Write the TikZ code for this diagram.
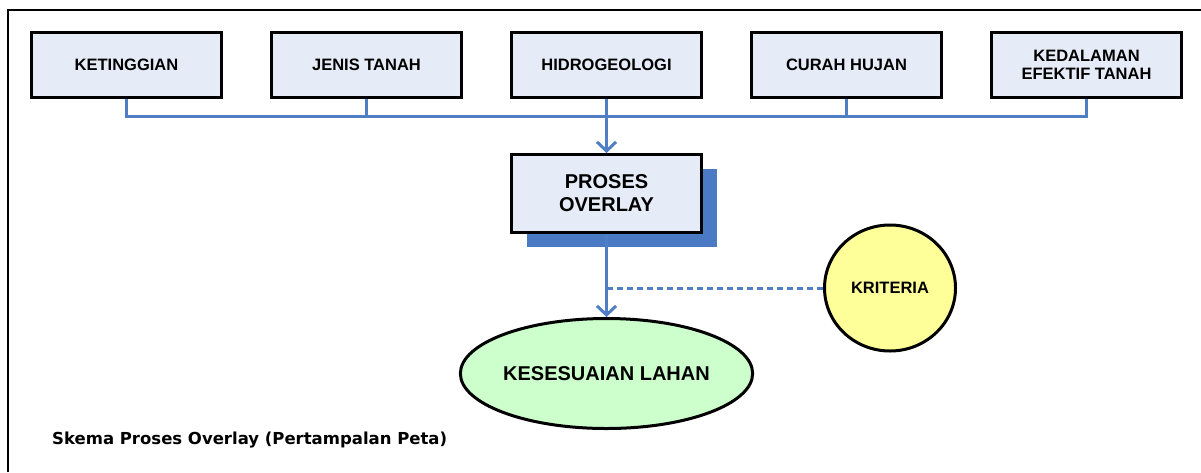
\documentclass[tikz,border=0pt]{standalone}
\usepackage{fontspec}
\setmainfont{Liberation Sans}
\newfontfamily\captionfont{DejaVu Sans}
\usetikzlibrary{arrows.meta,shapes.geometric,shadows}

\definecolor{linkblue}{HTML}{4F7EC5}
\definecolor{shadowblue}{HTML}{4A7AC4}
\definecolor{boxfill}{HTML}{E6ECF7}
\definecolor{resultfill}{HTML}{CCFFCC}
\definecolor{critfill}{HTML}{FFFF99}

\tikzset{
  factorbox/.style={draw=black, line width=3pt, fill=boxfill,
    minimum width=190pt, minimum height=65pt, align=center, inner sep=2pt,
    font=\bfseries\fontsize{16.5}{19}\selectfont},
  procbox/.style={draw=black, line width=3pt, fill=boxfill,
    minimum width=190pt, minimum height=78pt, align=center, inner sep=2pt,
    font=\bfseries\fontsize{20}{23}\selectfont,
    drop shadow={shadow xshift=15pt, shadow yshift=-14pt,
      fill=shadowblue, opacity=1}},
  resultnode/.style={ellipse, draw=black, line width=3pt, fill=resultfill,
    minimum width=286pt, minimum height=110pt, inner sep=0pt,
    font=\bfseries\fontsize{20}{23}\selectfont},
  critnode/.style={ellipse, draw=black, line width=3pt, fill=critfill,
    minimum width=131pt, minimum height=126pt, inner sep=0pt,
    font=\bfseries\fontsize{16.5}{19}\selectfont},
  link/.style={draw=linkblue, line width=3pt},
  linkarrow/.style={link, -{Straight Barb[length=9pt,width=19pt,line width=3pt]}},
  linkdash/.style={draw=linkblue, line width=3pt, dash pattern=on 6pt off 4pt},
  frameline/.style={draw=black, line width=2pt},
}

\begin{document}
\begin{tikzpicture}[x=1pt, y=-1pt]
\useasboundingbox (0,0) rectangle (1201,472);

% outer frame (top and left edges)
\coordinate (frameA) at (8,472);
\coordinate (frameB) at (8,10);
\coordinate (frameC) at (1201,10);
\draw[frameline] (frameA) -- (frameB) -- (frameC);

% input maps
\node[factorbox] (f1) at (126.5,65) {KETINGGIAN};
\node[factorbox] (f2) at (366.5,65) {JENIS TANAH};
\node[factorbox] (f3) at (606.5,65) {HIDROGEOLOGI};
\node[factorbox] (f4) at (846.5,65) {CURAH HUJAN};
\node[factorbox] (f5) at (1086.5,65) {KEDALAMAN\\[-1pt]EFEKTIF TANAH};

% overlay process
\node[procbox] (proc) at (606.5,193.5) {PROSES\\OVERLAY};

% result and criteria
\node[resultnode] (res) at (606.5,373.5) {KESESUAIAN LAHAN};
\node[critnode] (crit) at (890,288) {KRITERIA};

% collecting bus
\coordinate (bus) at (0,116);
\draw[link] (f1.south) -- (f1.south |- bus) -- (f5.south |- bus) -- (f5.south);
\draw[link] (f2.south) -- (f2.south |- bus);
\draw[link] (f4.south) -- (f4.south |- bus);
\draw[linkarrow] (f3.south) -- (proc.north);

% process to result, criteria feeding in
\draw[linkdash] (crit.west) -- (crit.west -| proc.south);
\draw[linkarrow] (proc.south) -- (res.north);

% caption
\node[anchor=base west, inner sep=0pt,
  font=\captionfont\bfseries\fontsize{16.5}{19}\selectfont] (cap) at (52,444)
  {Skema Proses Overlay (Pertampalan Peta)};
\end{tikzpicture}
\end{document}
